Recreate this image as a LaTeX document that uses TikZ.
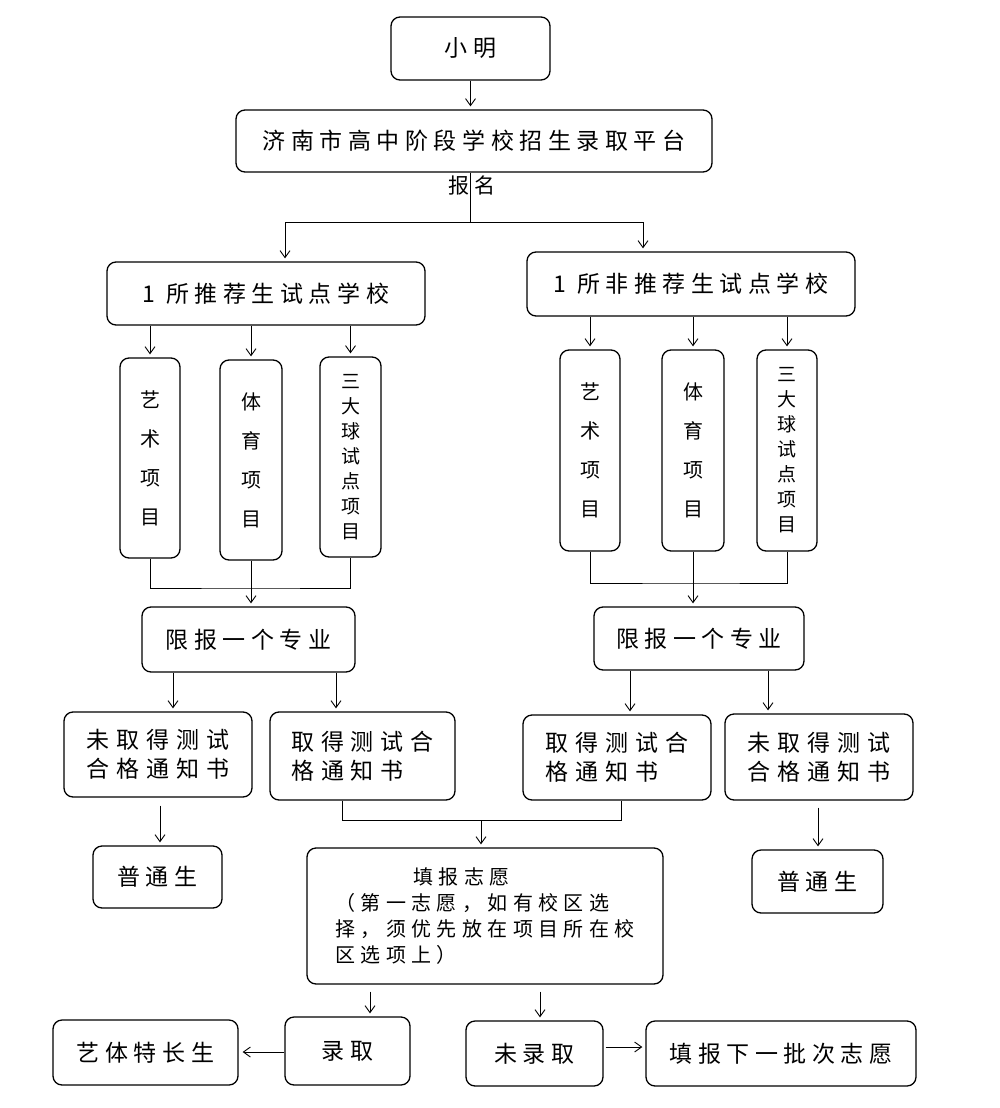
\documentclass[tikz,border=0pt]{standalone}
\usepackage{fontspec}
\usetikzlibrary{arrows.meta,calc}
\newfontfamily\cjk[LetterSpace=24]{Noto Sans CJK SC}
\newfontfamily\cjkw[LetterSpace=30]{Noto Sans CJK SC}
\newfontfamily\cjkz[LetterSpace=27]{Noto Sans CJK SC}
\begin{document}
\begin{tikzpicture}[x=1pt,y=-1pt,
  box/.style={draw, line width=1.3pt, rounded corners=9pt, inner sep=0pt,
    font=\cjk\fontsize{23}{28}\selectfont, align=center},
  cbox/.style={box, align=left, font=\cjkw\fontsize{23}{29}\selectfont},
  vbox/.style={box, font=\cjk\fontsize{20}{39}\selectfont},
  vboxt/.style={box, font=\cjk\fontsize{19}{25}\selectfont},
  arr/.style={-{Straight Barb[length=7pt,width=10pt]}, line width=0.9pt, shorten >=3pt},
  ln/.style={line width=0.9pt}
]
\useasboundingbox (0,0) rectangle (1000,1108);
% top
\node[box, minimum width=159, minimum height=63] (xm) at (470.5,48.5) {小明};
\node[box, minimum width=476, minimum height=62] (pt) at (474,141) {济南市高中阶段学校招生录取平台};
\node[font=\cjk\fontsize{21}{25}\selectfont, inner sep=0pt] (bm) at (472,186) {报名};
\node[box, minimum width=318, minimum height=63] (ls) at (266,293.5) {1 所推荐生试点学校};
\node[box, minimum width=328, minimum height=64] (rs) at (691,284) {1 所非推荐生试点学校};
% columns left
\node[vbox, minimum width=60, minimum height=200] (la1) at (150,458) {艺\\术\\项\\目};
\node[vbox, minimum width=62, minimum height=200] (la2) at (251,460) {体\\育\\项\\目};
\node[vboxt, minimum width=61, minimum height=200] (la3) at (350.5,457) {三\\大\\球\\试\\点\\项\\目};
% columns right
\node[vbox, minimum width=60, minimum height=201] (ra1) at (590,450.5) {艺\\术\\项\\目};
\node[vbox, minimum width=62, minimum height=201] (ra2) at (693,450.5) {体\\育\\项\\目};
\node[vboxt, minimum width=60, minimum height=201] (ra3) at (787,450.5) {三\\大\\球\\试\\点\\项\\目};
% limit
\node[box, minimum width=213, minimum height=65] (lx) at (248.5,639.5) {限报一个专业};
\node[box, minimum width=210, minimum height=63] (rx) at (699,638.5) {限报一个专业};
% certificates
\node[cbox, minimum width=188, minimum height=85] (lnq) at (158,754.5) {未取得测试\\合格通知书};
\node[cbox, minimum width=185, minimum height=88] (lq) at (362.5,756) {取得测试合\\格通知书};
\node[cbox, minimum width=188, minimum height=85] (rq) at (617,757.5) {取得测试合\\格通知书};
\node[cbox, minimum width=188, minimum height=86] (rnq) at (819,757) {未取得测试\\合格通知书};
% ordinary
\node[box, minimum width=129, minimum height=62] (lp) at (157.5,877) {普通生};
\node[box, minimum width=131, minimum height=63] (rp) at (817.5,881.5) {普通生};
% volunteer
\node[box, minimum width=356, minimum height=136, align=left,
  font=\cjkz\fontsize{20}{26}\selectfont] (zy) at (485,916)
  {\hspace*{3.9em}填报志愿\\（第一志愿，如有校区选\\择，须优先放在项目所在校\\区选项上）};
% bottom
\node[box, minimum width=125, minimum height=68] (lq2) at (347.5,1051) {录取};
\node[box, minimum width=185, minimum height=65] (ty) at (145.5,1052.5) {艺体特长生};
\node[box, minimum width=137, minimum height=65] (wl) at (534.5,1053.5) {未录取};
\node[box, minimum width=270, minimum height=65] (xp) at (781,1053.5) {填报下一批次志愿};

% connectors
\draw[arr] (xm.south) -- (pt.north -| xm.south);
\coordinate (sp) at (470,222);
\draw[ln] (pt.south -| sp) -- (sp);
\coordinate (sl) at (285,222);
\coordinate (sr) at (643,222);
\draw[ln] (sl) -- (sr);
\draw[arr] (sl) -- (sl |- ls.north);
\draw[arr] (sr) -- (sr |- rs.north);
\foreach \c in {la1,la2,la3} \draw[arr] (ls.south -| \c) -- (\c.north);
\foreach \c in {ra1,ra2,ra3} \draw[arr] (rs.south -| \c) -- (\c.north);
\coordinate (ml) at (251,588);
\draw[ln] (la1.south) |- (ml) -| (la3.south);
\draw[arr] (la2.south) -- (lx.north -| la2.south);
\coordinate (mr) at (693,583);
\draw[ln] (ra1.south) |- (mr) -| (ra3.south);
\draw[arr] (ra2.south) -- (rx.north -| ra2.south);
\coordinate (a1) at (173,0);
\coordinate (a2) at (336,0);
\coordinate (a3) at (630,0);
\coordinate (a4) at (768,0);
\draw[arr] (lx.south -| a1) -- (lnq.north -| a1);
\draw[arr] (lx.south -| a2) -- (lq.north -| a2);
\draw[arr] (rx.south -| a3) -- (rq.north -| a3);
\draw[arr] (rx.south -| a4) -- (rnq.north -| a4);
\coordinate (b1) at (342,820);
\coordinate (b2) at (621,820);
\coordinate (mq) at (481,820);
\draw[ln] (lq.south -| b1) -- (b1) -- (b2) -- (rq.south -| b2);
\draw[arr] (mq) -- (zy.north -| mq);
\coordinate (c1) at (160,0);
\coordinate (c2) at (818,0);
\draw[arr, shorten <=8pt] (lnq.south -| c1) -- (lp.north -| c1);
\draw[arr, shorten <=7pt] (rnq.south -| c2) -- (rp.north -| c2);
\coordinate (d1) at (370,0);
\coordinate (d2) at (540,0);
\draw[arr, shorten <=7pt] (zy.south -| d1) -- (lq2.north -| d1);
\draw[arr, shorten <=7pt] (zy.south -| d2) -- (wl.north -| d2);
\coordinate (e1) at (0,1052);
\coordinate (e2) at (0,1047);
\draw[arr, shorten >=4pt] (lq2.west |- e1) -- (ty.east |- e1);
\draw[arr, shorten <=2pt] (wl.east |- e2) -- (xp.west |- e2);
\end{tikzpicture}
\end{document}
